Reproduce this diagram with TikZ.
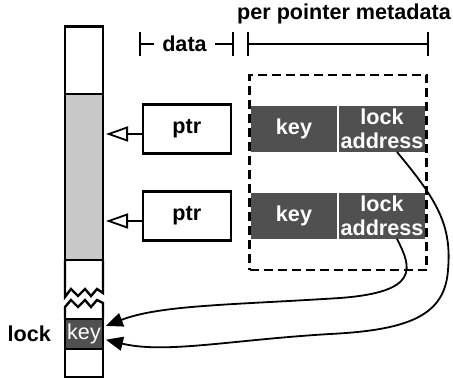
\documentclass[tikz,border=0pt]{standalone}
\usepackage{fontspec}
\setmainfont{Liberation Sans}
\usetikzlibrary{positioning}
\usetikzlibrary{fit}
\usetikzlibrary{arrows.meta}
\definecolor{objgray}{RGB}{200,200,200}
\definecolor{metadark}{RGB}{80,80,80}
\tikzset{txt/.style={font=\fontsize{21.6}{24}\selectfont\bfseries, inner sep=0pt}}
\tikzset{seg/.style={draw, line width=2.4pt, minimum width=38pt, inner sep=0pt, outer sep=0pt}}
\tikzset{ptrbox/.style={draw, line width=2.4pt, minimum width=88pt, minimum height=49pt, txt}}
\tikzset{meta/.style={fill=metadark, text=white, minimum width=86pt, minimum height=46pt, outer sep=0pt, txt, align=center}}
\tikzset{ruler/.style={line width=1.8pt, {Bar[width=24pt]}-{Bar[width=24pt]}}}
\tikzset{ptrarrow/.style={line width=1.8pt, shorten >=3pt, -{Triangle[open, length=22pt, width=15pt, fill=white]}}}
\tikzset{lockarrow/.style={line width=1.8pt, shorten >=3pt, -{Triangle[length=17pt, width=14pt]}}}

\begin{document}
\begin{tikzpicture}[x=1pt,y=-1pt]
\useasboundingbox (0,0) rectangle (453,379);
\node (free) [seg, minimum height=67.5pt] at (84,60.25) {};
\node (obj) [seg, fill=objgray, minimum height=166pt, below=0pt of free] {};
\node (lockkey) [seg, fill=metadark, text=white, font=\fontsize{21.6}{24}\selectfont, minimum height=30pt] at (84,334) {key};
\node (base) [seg, minimum height=28pt, below=0pt of lockkey] {};
\node (locklbl) [txt, left=14pt of lockkey] {lock};

\draw[line width=2.4pt] (obj.south west) -- (65,297) -- (71,289) -- (78,296) -- (85,289) -- (91,296) -- (97,289) -- (103,293) -- (obj.south east);
\draw[line width=2.4pt] (lockkey.north west) -- (65,307) -- (71,300) -- (78,307) -- (85,300) -- (91,307) -- (97,300) -- (103,303) -- (lockkey.north east);

\node (key1) [meta] at (294,129) {key};
\node (addr1) [meta, right=2pt of key1] {lock\\address};
\node (key2) [meta, below=41pt of key1] {key};
\node (addr2) [meta, right=2pt of key2] {lock\\address};
\node (pmd) [draw, line width=2.2pt, dash pattern=on 9pt off 5pt, inner xsep=1.5pt, inner ysep=31pt, fit=(key1) (addr2)] {};

\node (ptr1) [ptrbox, left=19pt of key1] {ptr};
\node (ptr2) [ptrbox, left=19pt of key2] {ptr};
\draw[ptrarrow] ([yshift=-5pt]ptr1.west) -- ([yshift=-5pt]ptr1.west -| obj.east);
\draw[ptrarrow] ([yshift=-5pt]ptr2.west) -- ([yshift=-5pt]ptr2.west -| obj.east);

\coordinate (d0) at (139,44);
\coordinate (d1) at (234,44);
\draw[ruler] (d0) -- (d1) node[txt, midway, fill=white, inner xsep=8pt, xshift=-2pt] (datalbl) {data};
\coordinate (m0) at (247,44);
\coordinate (m1) at (429,44);
\draw[ruler] (m0) -- (m1) node[txt, midway, above=19pt, xshift=6pt] (metalbl) {per pointer metadata};

\draw[lockarrow] ([xshift=15pt]addr2.south) .. controls (412,268) and (420,292) .. (340,298) .. controls (230,305) and (160,305) .. ([yshift=7pt]lockkey.east);
\draw[lockarrow] ([xshift=15pt]addr1.south) .. controls (437,200) and (452,225) .. (448,270) .. controls (445,315) and (410,330) .. (330,334) .. controls (230,340) and (165,354) .. ([yshift=-5pt]lockkey.east);
\end{tikzpicture}
\end{document}
